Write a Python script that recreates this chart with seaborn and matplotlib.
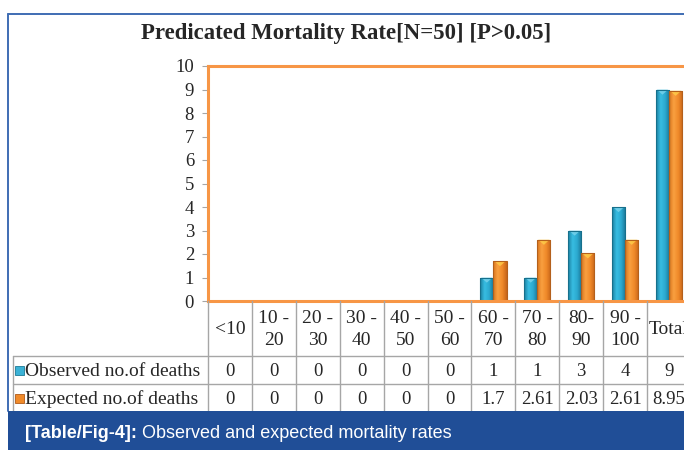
import numpy as np
import pandas as pd
import matplotlib
matplotlib.use("Agg")
import matplotlib.pyplot as plt
import matplotlib.transforms as mtransforms
from matplotlib.patches import Rectangle, Polygon
from matplotlib.lines import Line2D
import seaborn as sns

# ---- data -------------------------------------------------------------
age_groups = ["<10", "10 -\n20", "20 -\n30", "30 -\n40", "40 -\n50", "50 -\n60",
              "60 -\n70", "70 -\n80", "80-\n90", "90 -\n100", "Total"]
observed = [0, 0, 0, 0, 0, 0, 1, 1, 3, 4, 9]
expected = [0, 0, 0, 0, 0, 0, 1.7, 2.61, 2.03, 2.61, 8.95]
observed_labels = ["0", "0", "0", "0", "0", "0", "1", "1", "3", "4", "9"]
expected_labels = ["0", "0", "0", "0", "0", "0", "1.7", "2.61", "2.03", "2.61", "8.95"]
series_names = ["Observed no.of deaths", "Expected no.of deaths"]
y_ticks = list(range(0, 11))

title = "Predicated Mortality Rate[N=50] [P>0.05]"
caption_bold = "[Table/Fig-4]:"
caption_rest = " Observed and expected mortality rates"

df = pd.DataFrame({
    "Age": age_groups * 2,
    "Deaths": observed + expected,
    "Series": [series_names[0]] * len(age_groups) + [series_names[1]] * len(age_groups),
})

# ---- styling ----------------------------------------------------------
sns.set_style("white")
plt.rcParams["font.family"] = ["Liberation Serif", "DejaVu Serif"]

W, H = 684, 450
BLUE = "#2AA6CB"
ORANGE = "#F28A26"
BORDER_ORANGE = "#F79646"
FRAME_BLUE = "#3F6DB3"
BAND_BLUE = "#204E97"
GRID_GRAY = "#A6A6A6"
TABLE_FS = 14
VALUE_FS = 13.5


def fx(x):
    return x / W


def fy(y):
    return 1 - y / H


fig = plt.figure(figsize=(W / 100, H / 100), dpi=100)

# plot area (its right part runs past the edge of the figure)
left_px, right_px, top_px, bottom_px = 208, 691, 66, 301
ax = fig.add_axes([fx(left_px), fy(bottom_px),
                   (right_px - left_px) / W, (bottom_px - top_px) / H])

sns.barplot(data=df, x="Age", y="Deaths", hue="Series", order=age_groups,
            hue_order=series_names, palette=[BLUE, ORANGE], width=0.6,
            dodge=True, legend=False, ax=ax, saturation=1,
            edgecolor="none", linewidth=0)

# shaded, bevelled look for each bar
shades = {
    BLUE: (["#1A7FA0", "#38BDE2", "#2BA9CF", "#1A7393"], "#7FD6EE", "#17708C"),
    ORANGE: (["#D9741C", "#F9A040", "#F08A2A", "#C7651A"], "#FFD24A", "#B4601C"),
}
for patch in list(ax.patches):
    h = patch.get_height()
    if h <= 0:
        continue
    x0, w = patch.get_x(), patch.get_width()
    fc = matplotlib.colors.to_hex(patch.get_facecolor())
    key = BLUE if abs(int(fc[1:3], 16) - int(BLUE[1:3], 16)) < 40 else ORANGE
    stops, cap, edge = shades[key]
    cols = np.array([matplotlib.colors.to_rgb(c) for c in stops])
    t = np.linspace(0, 1, 64)
    pos = np.linspace(0, 1, len(stops))
    grad = np.stack([np.interp(t, pos, cols[:, k]) for k in range(3)], axis=-1)[None, :, :]
    im = ax.imshow(grad, extent=[x0, x0 + w, 0, h], aspect="auto",
                   interpolation="bilinear", zorder=2)
    im.set_clip_path(patch)
    ax.add_patch(Polygon([[x0 + 0.02, h], [x0 + w - 0.02, h], [x0 + w / 2, h - 0.22]],
                         closed=True, facecolor=cap, edgecolor="none",
                         alpha=0.75, zorder=3))
    ax.add_patch(Rectangle((x0, 0), w, h, fill=False, edgecolor=edge,
                           linewidth=0.8, zorder=4))

ax.set_xlim(-0.5, len(age_groups) - 0.5)
ax.set_ylim(0, 10)
ax.set_yticks(y_ticks)
ax.set_yticklabels([str(v) for v in y_ticks], fontsize=13.5)
ax.set_xticks([])
ax.set_xlabel("")
ax.set_ylabel("")
ax.tick_params(axis="y", direction="out", length=4, width=0.8, color=GRID_GRAY,
               pad=6, left=True)
for side in ax.spines.values():
    side.set_visible(True)
    side.set_color(BORDER_ORANGE)
    side.set_linewidth(2.2)
    side.set_zorder(5)

# ---- data table under the plot ----------------------------------------
tr = mtransforms.blended_transform_factory(ax.transData, fig.transFigure)
header_top, row1_top, row2_top, table_bottom = 301, 356, 384, 412
table_left = 13
n = len(age_groups)

for k in range(n + 1):
    fig.add_artist(Line2D([k - 0.5, k - 0.5], [fy(header_top), fy(table_bottom)],
                          transform=tr, color=GRID_GRAY, linewidth=1.0))
fig.add_artist(Line2D([fx(table_left)] * 2, [fy(row1_top), fy(table_bottom)],
                      transform=fig.transFigure, color=GRID_GRAY, linewidth=1.0))
for yy in (row1_top, row2_top):
    fig.add_artist(Line2D([fx(table_left), fx(right_px)], [fy(yy), fy(yy)],
                          transform=fig.transFigure, color=GRID_GRAY, linewidth=1.0))

for i, lab in enumerate(age_groups):
    fig.text(i, fy((header_top + row1_top) / 2 + 1), lab, transform=tr,
             ha="center", va="center", fontsize=TABLE_FS, linespacing=1.45)
    fig.text(i, fy((row1_top + row2_top) / 2 + 1), observed_labels[i], transform=tr,
             ha="center", va="center", fontsize=VALUE_FS)
    fig.text(i, fy((row2_top + table_bottom) / 2 + 1), expected_labels[i], transform=tr,
             ha="center", va="center", fontsize=VALUE_FS)

# row headers with colour keys
for (name, key_col, edge), top in zip(
        [(series_names[0], "#3BB2D6", "#1C7A97"), (series_names[1], "#F08A2A", "#B05A18")],
        [row1_top, row2_top]):
    cy = (top + 28 / 2)
    fig.add_artist(Rectangle((fx(15), fy(cy + 4.5)), 9 / W, 9 / H,
                             transform=fig.transFigure, facecolor=key_col,
                             edgecolor=edge, linewidth=0.6))
    fig.text(fx(25), fy(cy + 1), name, ha="left", va="center", fontsize=TABLE_FS)

# ---- title, frame and caption band ------------------------------------
fig.text(fx(346), fy(33), title, ha="center", va="center", fontsize=16.4,
         fontweight="bold")

fig.add_artist(Line2D([fx(8), fx(W)], [fy(14), fy(14)], transform=fig.transFigure,
                      color=FRAME_BLUE, linewidth=1.4))
fig.add_artist(Line2D([fx(8), fx(8)], [fy(14), fy(411)], transform=fig.transFigure,
                      color=FRAME_BLUE, linewidth=1.4))

fig.add_artist(Rectangle((fx(8), 0), 1 - fx(8), fy(411), transform=fig.transFigure,
                         facecolor=BAND_BLUE, edgecolor="none", zorder=10))
t1 = fig.text(fx(25), fy(433), caption_bold, ha="left", va="center", fontsize=13,
              fontweight="bold", color="white", family="Liberation Sans", zorder=11)
fig.canvas.draw()
bb = t1.get_window_extent()
fig.text(bb.x1 / W, fy(433), caption_rest, ha="left", va="center", fontsize=13,
         color="white", family="Liberation Sans", zorder=11)

fig.savefig("out.png", dpi=100)
